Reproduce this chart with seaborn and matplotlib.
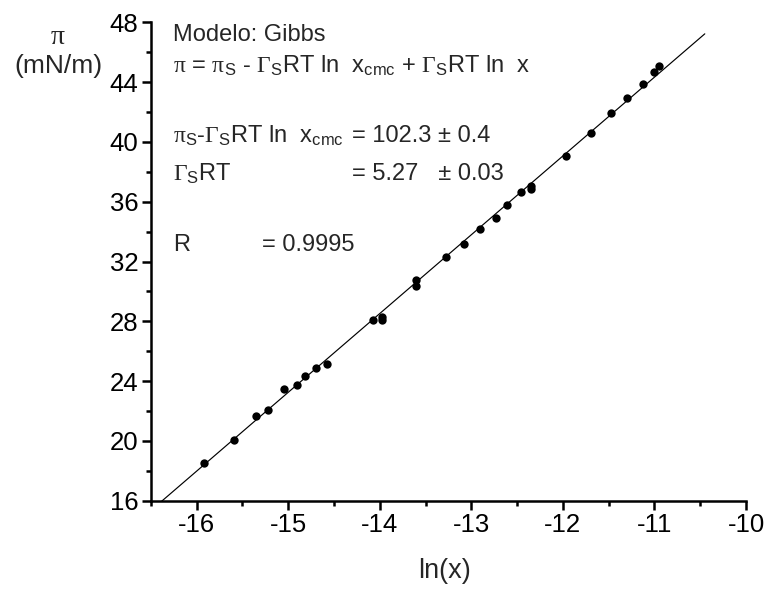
import matplotlib
matplotlib.use("Agg")
import matplotlib.pyplot as plt
import seaborn as sns
import pandas as pd
from matplotlib.ticker import MultipleLocator

# Surface pressure isotherm: pi (mN/m) versus ln(x)
ln_x = [-15.917, -15.595, -15.354, -15.223, -15.049, -14.901, -14.815, -14.700,
        -14.582, -14.078, -13.978, -13.978, -13.599, -13.599, -13.282, -13.078,
        -12.900, -12.736, -12.611, -12.460, -12.346, -12.346, -11.966, -11.691,
        -11.478, -11.300, -11.128, -11.002, -10.954]
pi_values = [18.55, 20.05, 21.68, 22.07, 23.46, 23.71, 24.32, 24.90,
             25.16, 28.09, 28.32, 28.11, 30.78, 30.36, 32.28, 33.17,
             34.17, 34.92, 35.76, 36.66, 37.03, 36.86, 39.09, 40.60,
             41.91, 42.92, 43.87, 44.70, 45.10]

# Gibbs model fit parameters
intercept, intercept_err = 102.3, 0.4
slope, slope_err = 5.27, 0.03
r_value = 0.9995
fit_span = [-16.5, -10.45]

x_ticks = [-16, -15, -14, -13, -12, -11, -10]
y_ticks = [16, 20, 24, 28, 32, 36, 40, 44, 48]

sns.set_theme(style="ticks")
plt.rcParams["font.family"] = ["Liberation Sans", "DejaVu Sans"]
plt.rcParams["axes.unicode_minus"] = False
plt.rcParams["mathtext.fontset"] = "custom"
plt.rcParams["mathtext.rm"] = "Liberation Serif"
plt.rcParams["mathtext.sf"] = "Liberation Sans"
plt.rcParams["mathtext.it"] = "Liberation Sans:italic"
plt.rcParams["mathtext.bf"] = "Liberation Sans:bold"

W, H = 766, 589
fig = plt.figure(figsize=(W / 100, H / 100), dpi=100)
fig.patch.set_facecolor("white")
ax = fig.add_axes([150.9 / W, 1 - 500.7 / H, (746 - 150.9) / W, (500.7 - 22.3) / H])
ax.set_facecolor("white")

pts = pd.DataFrame({"ln_x": ln_x, "pi": pi_values})
sns.scatterplot(data=pts, x="ln_x", y="pi", ax=ax, color="black", s=36,
                linewidth=0, zorder=3, legend=False)

fit = pd.DataFrame({"ln_x": fit_span,
                    "pi": [intercept + slope * v for v in fit_span]})
sns.lineplot(data=fit, x="ln_x", y="pi", ax=ax, color="black", linewidth=0.85,
             zorder=2)

ax.set_xlim(-16.5, -10)
ax.set_ylim(16, 48)
ax.set_xticks(x_ticks)
ax.set_yticks(y_ticks)
ax.xaxis.set_minor_locator(MultipleLocator(0.5))
ax.yaxis.set_minor_locator(MultipleLocator(2))
ax.set_xlabel("")
ax.set_ylabel("")

for side in ("top", "right"):
    ax.spines[side].set_visible(False)
for side in ("left", "bottom"):
    ax.spines[side].set_linewidth(1.8)
    ax.spines[side].set_color("black")

ax.tick_params(which="major", length=6.5, width=1.8, direction="out",
               labelsize=18.5, pad=2.5, color="black", labelcolor="black")
ax.tick_params(which="minor", length=3.5, width=1.8, direction="out",
               color="black")

def px(x, y):
    return x / W, 1 - y / H

fs = 17
fig.text(*px(444, 571), "ln(x)", ha="center", va="center", fontsize=19.5)
fig.text(*px(58, 37), r"$\mathrm{\pi}$", ha="center", va="center", fontsize=20)
fig.text(*px(58, 66), "(mN/m)", ha="center", va="center", fontsize=19)

fig.text(*px(173, 40.7), "Modelo: Gibbs", ha="left", va="baseline", fontsize=fs)
fig.text(*px(173, 71.7),
         r"$\mathrm{\pi}$ = $\mathrm{\pi}_\mathsf{S}$ - $\mathrm{\Gamma}_\mathsf{S}$RT ln  x$_\mathsf{cmc}$"
         r" + $\mathrm{\Gamma}_\mathsf{S}$RT ln  x",
         ha="left", va="baseline", fontsize=fs)
fig.text(*px(173, 141.7),
         r"$\mathrm{\pi}_\mathsf{S}$-$\mathrm{\Gamma}_\mathsf{S}$RT ln  x$_\mathsf{cmc}$",
         ha="left", va="baseline", fontsize=fs)
fig.text(*px(352, 141.7), f"= {intercept:.1f} ± {intercept_err:.1f}",
         ha="left", va="baseline", fontsize=fs)
fig.text(*px(173, 180), r"$\mathrm{\Gamma}_\mathsf{S}$RT",
         ha="left", va="baseline", fontsize=fs)
fig.text(*px(352, 180), f"= {slope:.2f}   ± {slope_err:.2f}",
         ha="left", va="baseline", fontsize=fs)
fig.text(*px(173, 250.7), "R", ha="left", va="baseline", fontsize=fs)
fig.text(*px(262, 250.7), f"= {r_value:.4f}", ha="left", va="baseline", fontsize=fs)

fig.savefig("out.png", dpi=100, facecolor="white")
